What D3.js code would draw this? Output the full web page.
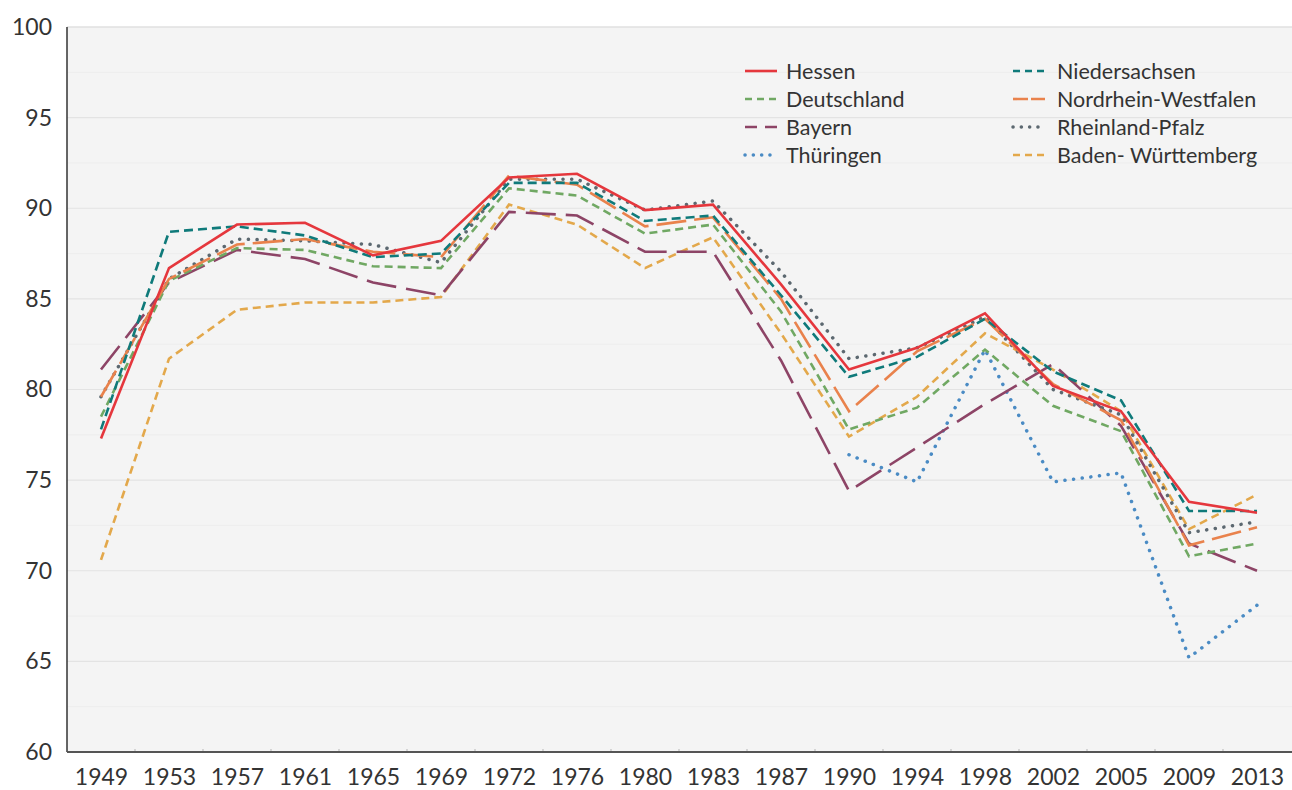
<!DOCTYPE html>
<html>
<head>
<meta charset="utf-8">
<script src="https://cdn.jsdelivr.net/npm/d3@7"></script>
<style>
  html, body { margin: 0; padding: 0; background: #ffffff; }
  svg { display: block; font-family: Lato, "Open Sans", sans-serif; }
</style>
</head>
<body>
<svg id="chart" width="1292" height="790"></svg>
<script>
// Wahlbeteiligung bei Bundestagswahlen (%)
const years = ["1949","1953","1957","1961","1965","1969","1972","1976","1980","1983","1987","1990","1994","1998","2002","2005","2009","2013"];

const hessen        = [77.3, 86.7, 89.1, 89.2, 87.4, 88.2, 91.7, 91.9, 89.9, 90.2, 85.8, 81.1, 82.3, 84.2, 80.2, 78.8, 73.8, 73.2];
const niedersachsen = [77.8, 88.7, 89.0, 88.5, 87.3, 87.5, 91.4, 91.4, 89.3, 89.6, 85.2, 80.7, 81.8, 83.9, 81.0, 79.4, 73.3, 73.3];
const deutschland   = [78.5, 86.0, 87.8, 87.7, 86.8, 86.7, 91.1, 90.7, 88.6, 89.1, 84.3, 77.8, 79.0, 82.2, 79.1, 77.7, 70.8, 71.5];
const nrw           = [79.6, 86.1, 88.0, 88.3, 87.6, 87.3, 91.8, 91.3, 89.0, 89.5, 85.0, 78.8, 82.1, 83.9, 80.3, 78.3, 71.4, 72.4];
const bayern        = [81.1, 85.9, 87.7, 87.2, 85.9, 85.2, 89.8, 89.6, 87.6, 87.6, 81.6, 74.4, 76.8, 79.2, 81.4, 78.0, 71.5, 70.0];
const rlp           = [79.6, 86.1, 88.3, 88.2, 88.0, 87.0, 91.6, 91.6, 89.9, 90.4, 86.5, 81.7, 82.3, 84.0, 80.0, 78.6, 72.1, 72.7];
const thueringen    = [null, null, null, null, null, null, null, null, null, null, null, 76.4, 74.9, 82.2, 74.9, 75.4, 65.2, 68.1];
const bw            = [70.6, 81.7, 84.4, 84.8, 84.8, 85.1, 90.2, 89.1, 86.7, 88.4, 83.1, 77.4, 79.6, 83.1, 81.1, 78.8, 72.3, 74.2];

const yTicks = [60, 65, 70, 75, 80, 85, 90, 95, 100];

// series styling (drawing order = array order, last on top)
const series = [
  { name: "Baden- Württemberg", values: bw,            color: "#e3a84b", width: 2.6, dash: "8,5",    cap: "butt",  legendDash: "7,5" },
  { name: "Thüringen",          values: thueringen,    color: "#4a8bc4", width: 3.5, dash: "0.1,8.6", cap: "round", legendDash: "0.1,8.2" },
  { name: "Bayern",             values: bayern,        color: "#8d4466", width: 2.6, dash: "30,10",  cap: "butt",  legendDash: "12,8" },
  { name: "Deutschland",        values: deutschland,   color: "#70a863", width: 2.6, dash: "8,5",    cap: "butt",  legendDash: "7,5" },
  { name: "Rheinland-Pfalz",    values: rlp,           color: "#5c6870", width: 3.5, dash: "0.1,8.6", cap: "round", legendDash: "0.1,8.2" },
  { name: "Nordrhein-Westfalen",values: nrw,           color: "#e9824c", width: 2.6, dash: "30,8",   cap: "butt",  legendDash: "15,3" },
  { name: "Niedersachsen",      values: niedersachsen, color: "#0f7a7a", width: 2.6, dash: "9,5",    cap: "butt",  legendDash: "7,5" },
  { name: "Hessen",             values: hessen,        color: "#e5373d", width: 2.6, dash: null,     cap: "butt",  legendDash: null }
];

// legend layout: two columns, four rows
const legendOrder = [
  ["Hessen", "Niedersachsen"],
  ["Deutschland", "Nordrhein-Westfalen"],
  ["Bayern", "Rheinland-Pfalz"],
  ["Thüringen", "Baden- Württemberg"]
];

const svg = d3.select("#chart");
const plotLeft = 67, plotRight = 1291, plotTop = 27, plotBottom = 752;
const fontFamily = "Lato, 'Open Sans', sans-serif";
const textColor = "#333333";

const x = d3.scalePoint().domain(years).range([plotLeft, plotRight]).padding(0.5);
const y = d3.scaleLinear().domain([60, 100]).range([plotBottom, plotTop]);

// plot background
svg.append("rect")
  .attr("x", plotLeft).attr("y", plotTop)
  .attr("width", 1292 - plotLeft).attr("height", plotBottom - plotTop)
  .attr("fill", "#f4f4f4");

// minor gridlines
const minor = d3.range(62.5, 100, 5);
svg.append("g").selectAll("line").data(minor).join("line")
  .attr("x1", plotLeft).attr("x2", 1292)
  .attr("y1", d => y(d)).attr("y2", d => y(d))
  .attr("stroke", "#ededed").attr("stroke-width", 1);

// major gridlines
svg.append("g").selectAll("line").data(yTicks.filter(d => d > 60)).join("line")
  .attr("x1", plotLeft).attr("x2", 1292)
  .attr("y1", d => y(d)).attr("y2", d => y(d))
  .attr("stroke", d => d === 100 ? "#e0e0e0" : "#e3e3e3")
  .attr("stroke-width", d => d === 100 ? 1.6 : 1.2);

// y axis
const yAxis = svg.append("g")
  .attr("transform", `translate(${plotLeft},0)`)
  .call(d3.axisLeft(y).tickValues(yTicks).tickSize(0).tickPadding(15));
yAxis.select(".domain").remove();
yAxis.selectAll("text")
  .attr("font-size", 23).attr("fill", textColor)
  .attr("font-family", fontFamily);
svg.append("line")
  .attr("x1", plotLeft).attr("x2", plotLeft)
  .attr("y1", plotTop).attr("y2", plotBottom)
  .attr("stroke", "#333").attr("stroke-width", 1.5);

// x axis
const xAxis = svg.append("g")
  .attr("transform", `translate(0,${plotBottom})`)
  .call(d3.axisBottom(x).tickSize(0).tickPadding(17));
xAxis.select(".domain").remove();
xAxis.selectAll("text")
  .attr("font-size", 23).attr("fill", textColor)
  .attr("font-family", fontFamily);

// small ticks at category boundaries
const step = x.step();
svg.append("g").selectAll("line").data(years.slice(1)).join("line")
  .attr("x1", d => x(d) - step / 2).attr("x2", d => x(d) - step / 2)
  .attr("y1", plotBottom - 3).attr("y2", plotBottom)
  .attr("stroke", "#b5b5b5").attr("stroke-width", 1);

svg.append("line")
  .attr("x1", plotLeft).attr("x2", 1292)
  .attr("y1", plotBottom).attr("y2", plotBottom)
  .attr("stroke", "#555").attr("stroke-width", 2);

// series lines
const line = d3.line()
  .defined(d => d.v != null)
  .x(d => x(d.year))
  .y(d => y(d.v));

const lines = svg.append("g");
series.forEach(s => {
  const pts = years.map((yr, i) => ({ year: yr, v: s.values[i] }));
  lines.append("path")
    .datum(pts)
    .attr("d", line)
    .attr("fill", "none")
    .attr("stroke", s.color)
    .attr("stroke-width", s.width)
    .attr("stroke-linecap", s.cap)
    .attr("stroke-linejoin", "miter")
    .attr("stroke-dasharray", s.dash);
});

// legend
const byName = new Map(series.map(s => [s.name, s]));
const colX = [{ l: 745, t: 786 }, { l: 1013, t: 1057 }];
const rowY = [71, 99, 127, 155];
const legend = svg.append("g");
legendOrder.forEach((row, r) => {
  row.forEach((name, c) => {
    const s = byName.get(name);
    const cx = colX[c];
    legend.append("line")
      .attr("x1", cx.l).attr("x2", cx.l + 32)
      .attr("y1", rowY[r]).attr("y2", rowY[r])
      .attr("stroke", s.color)
      .attr("stroke-width", s.width)
      .attr("stroke-linecap", s.cap)
      .attr("stroke-dasharray", s.legendDash);
    legend.append("text")
      .attr("x", cx.t).attr("y", rowY[r])
      .attr("dy", "0.35em")
      .attr("font-size", 21.5)
      .attr("font-family", fontFamily)
      .attr("fill", textColor)
      .text(name);
  });
});
</script>
</body>
</html>
